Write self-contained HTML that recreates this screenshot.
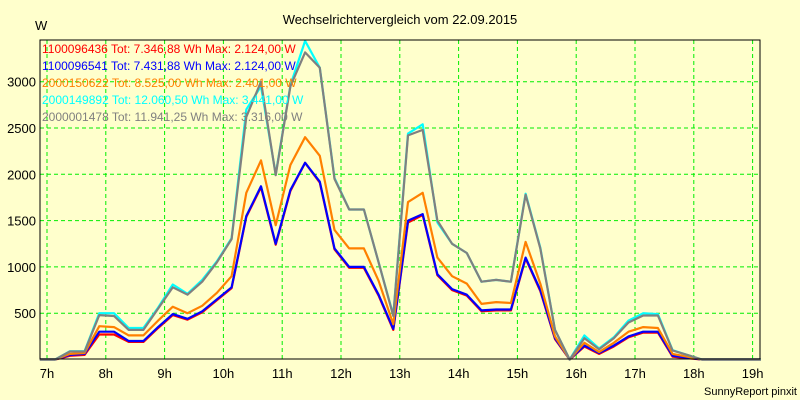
<!DOCTYPE html>
<html><head><meta charset="utf-8">
<style>
body{margin:0;background:#ffffcc;}
svg{display:block;font-family:"Liberation Sans",sans-serif;}
</style></head>
<body>
<svg id="chart" width="800" height="400" viewBox="0 0 800 400">
<rect x="0" y="0" width="800" height="400" fill="#ffffcc"/>
<text x="400" y="24" text-anchor="middle" font-size="13" fill="#000">Wechselrichtervergleich vom 22.09.2015</text>
<text x="35" y="30" font-size="13" fill="#000">W</text>
<text x="797" y="395" text-anchor="end" font-size="11" fill="#000">SunnyReport pinxit</text>
<g id="grid"></g>
<g id="series"></g>
<rect x="40" y="40" width="720" height="319" fill="none" stroke="#000" stroke-width="1"/>
<g id="ticks"></g>
<g id="legend"></g>
</svg>
<script>
const xTickLabels = ["7h","8h","9h","10h","11h","12h","13h","14h","15h","16h","17h","18h","19h"];
const xTickHours = [7,8,9,10,11,12,13,14,15,16,17,18,19];
const yTicks = [500,1000,1500,2000,2500,3000];
const startHour = 7.14;
const stepHour = 0.25;
const seriesNames = ["1100096436","1100096541","2000150622","2000149892","2000001478"];
const seriesLegend = [
 "1100096436 Tot: 7.346,88 Wh Max: 2.124,00 W",
 "1100096541 Tot: 7.431,88 Wh Max: 2.124,00 W",
 "2000150622 Tot: 8.525,00 Wh Max: 2.401,00 W",
 "2000149892 Tot: 12.060,50 Wh Max: 3.441,00 W",
 "2000001478 Tot: 11.941,25 Wh Max: 3.316,00 W"];
const seriesColors = ["#ff0000","#0000ff","#ff8000","#00ffff","#808080"];
const red =    [0,40,50,270,270,190,190,340,480,430,510,640,770,1540,1860,1240,1820,2124,1910,1190,990,990,690,320,1480,1560,910,750,690,520,530,530,1090,740,220,0,140,60,140,240,290,290,30,15,0,0,0,0,0];
const blue =   [0,50,60,300,300,200,200,350,490,440,520,650,780,1550,1870,1250,1830,2124,1920,1200,1000,1000,700,330,1500,1570,920,760,700,530,540,540,1100,750,230,0,150,70,150,250,300,300,40,20,0,0,0,0,0];
const orange = [0,60,70,360,350,260,260,420,570,500,580,720,900,1800,2150,1450,2100,2401,2200,1400,1200,1200,850,380,1700,1800,1100,900,820,600,620,610,1270,820,250,0,180,80,180,300,350,340,60,30,0,0,0,0,0];
const cyan =   [0,90,90,500,500,340,340,560,810,710,860,1060,1310,2700,2950,2000,2960,3441,3150,1960,1620,1620,1050,480,2440,2540,1480,1250,1150,840,860,840,1790,1210,320,0,260,120,240,420,500,490,100,50,0,0,0,0,0];
const gray =   [0,86,86,480,470,320,320,550,780,700,840,1050,1300,2620,3000,1990,2950,3316,3150,1950,1620,1620,1050,470,2420,2480,1500,1250,1150,840,860,840,1780,1200,320,0,230,110,230,400,475,475,97,50,0,0,0,0,0];
const seriesData = [red, blue, orange, cyan, gray];

const NS="http://www.w3.org/2000/svg";
const X0=47, PX_PER_H=58.8, Y0=359.5, PX_PER_W=0.0926;
function xScale(h){return X0+(h-7)*PX_PER_H;}
function yScale(v){return Y0-v*PX_PER_W;}
function mk(tag,attrs,parent){const e=document.createElementNS(NS,tag);for(const k in attrs)e.setAttribute(k,attrs[k]);parent.appendChild(e);return e;}
const grid=document.getElementById('grid'), ticks=document.getElementById('ticks'), sg=document.getElementById('series'), lg=document.getElementById('legend');

xTickHours.forEach((h,i)=>{
  const x=xScale(h);
  const l=mk('line',{x1:x,x2:x,y1:40,y2:359,stroke:'#00ee00','stroke-dasharray':'4,3','stroke-width':1},grid);
  
  
  const t=mk('text',{x:x,y:378,'text-anchor':'middle','font-size':13,fill:'#000'},ticks);
  t.textContent=xTickLabels[i];
  
  
});
yTicks.forEach(v=>{
  const y=yScale(v);
  const l=mk('line',{x1:40,x2:760,y1:y,y2:y,stroke:'#00ee00','stroke-dasharray':'4,3','stroke-width':1},grid);
  
  
  const t=mk('text',{x:36,y:y+5,'text-anchor':'end','font-size':13,fill:'#000'},ticks);
  t.textContent=String(v);
  
  
});
seriesData.forEach((arr,si)=>{
  const pts=arr.map((v,k)=>xScale(startHour+k*stepHour).toFixed(1)+','+yScale(v).toFixed(1));
  pts.unshift(xScale(7-0.12).toFixed(1)+','+yScale(0).toFixed(1));
  const p=mk('polyline',{points:pts.join(' '),fill:'none',stroke:seriesColors[si],'stroke-width':2.2,'stroke-linejoin':'round'},sg);
  
  
});
seriesLegend.forEach((s,i)=>{
  const t=mk('text',{x:42,y:53+i*17,'font-size':12,fill:seriesColors[i]},lg);
  t.textContent=s;
  
  
});
</script>
</body></html>
